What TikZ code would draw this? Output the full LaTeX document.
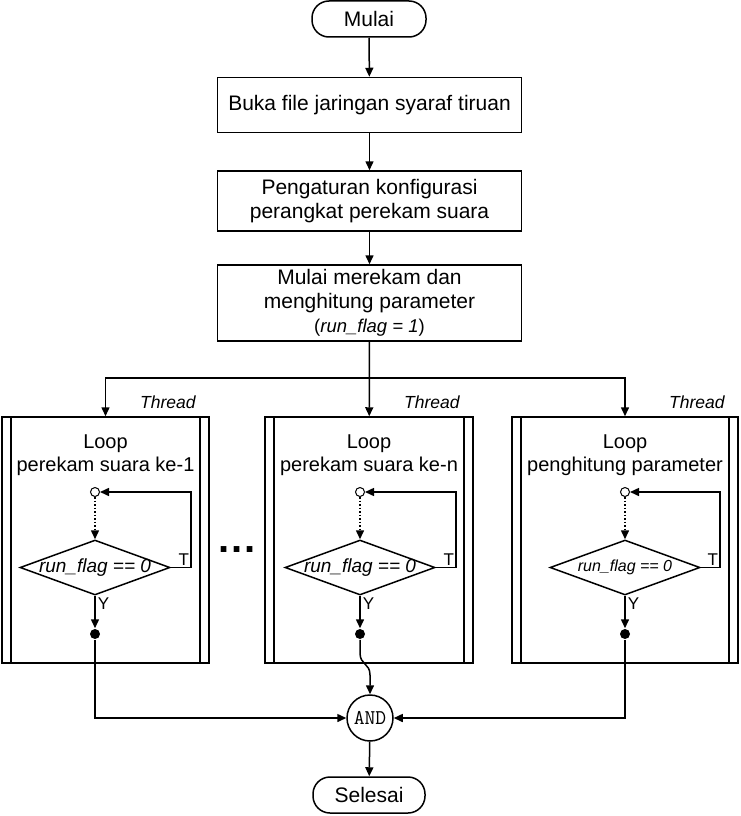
\documentclass[tikz,border=0pt]{standalone}
\usepackage{fontspec}
\setmainfont{Liberation Sans}
\usetikzlibrary{shapes.geometric,arrows.meta}
\tikzset{
  proses/.style={draw, minimum width=304pt, align=center, font=\fontsize{21}{24}\selectfont},
  terminal/.style={draw, rounded corners=17pt, minimum width=114pt, minimum height=36pt, font=\fontsize{21}{24}\selectfont},
  loopbox/.style={draw, minimum height=246pt, path picture={
    \draw ([xshift=9pt]path picture bounding box.north west) -- ([xshift=9pt]path picture bounding box.south west)
          ([xshift=-9pt]path picture bounding box.north east) -- ([xshift=-9pt]path picture bounding box.south east);}},
  judul/.style={align=center, font=\fontsize{20}{23}\selectfont},
  cek/.style={diamond, draw, aspect=2.7, minimum width=150pt, minimum height=55pt, inner sep=0pt},
  lubang/.style={circle, draw, fill=white, inner sep=0pt, minimum size=9pt, line width=1pt},
  titik/.style={circle, fill, inner sep=0pt, minimum size=10pt},
  kecil/.style={font=\fontsize{17}{20}\selectfont},
  benang/.style={anchor=base east, font=\fontsize{17.5}{20}\selectfont\itshape},
}
\begin{document}
\begin{tikzpicture}[x=1pt, y=-1pt, line width=1.5pt, >={Triangle[length=9pt,width=8pt]}]
\useasboundingbox (0,0) rectangle (740,816);
\node[terminal] (start) at (369,19) {Mulai};
\node[proses, minimum height=55pt] (buka) at (369.5,105) {Buka file jaringan syaraf tiruan};
\node[proses, minimum height=60pt] (atur) at (369.5,201) {Pengaturan konfigurasi\\perangkat perekam suara};
\node[proses, minimum height=76pt] (rekam) at (369.5,303) {Mulai merekam dan\\menghitung parameter\\{\fontsize{18.5}{20}\selectfont(\textit{run\_flag = 1})}};
\coordinate (cabang) at (369.5,378);

% tiga thread
\node[loopbox, minimum width=207pt] (loop1) at (105.5,540) {};
\node[loopbox, minimum width=208pt] (loopn) at (369,540) {};
\node[loopbox, minimum width=226pt] (loopp) at (625,540) {};
\node[benang] at ([xshift=-10pt,yshift=8pt]loop1.north east) {Thread};
\node[benang] at ([xshift=-10pt,yshift=8pt]loopn.north east) {Thread};
\node[benang] at ([xshift=-10pt,yshift=8pt]loopp.north east) {Thread};
\node[judul] at (105.5,455) {Loop\\perekam suara ke-1};
\node[judul] at (369,455) {Loop\\perekam suara ke-n};
\node[judul] at (625,455) {Loop\\penghitung parameter};
\node[font=\fontsize{40}{40}\selectfont\bfseries, inner sep=0pt] (titiktiga) at (237,550) {.\kern2pt.\kern2pt.};

\node[lubang] (o1) at (95,492) {};
\node[cek, label={[font=\fontsize{19}{22}\selectfont\itshape]center:run\_flag == 0}] (c1) at (95,567.5) {};
\node[titik] (d1) at (95,634) {};
\node[lubang] (on) at (360,492) {};
\node[cek, label={[font=\fontsize{19}{22}\selectfont\itshape]center:run\_flag == 0}] (cn) at (360,567.5) {};
\node[titik] (dn) at (360,634) {};
\node[lubang] (op) at (625,492) {};
\node[cek, label={[font=\fontsize{16}{19}\selectfont\itshape]center:run\_flag == 0}] (cp) at (625,567.5) {};
\node[titik] (dp) at (625,634) {};

\node[circle, draw, minimum size=46pt, inner sep=0pt, font=\fontsize{21}{24}\selectfont\ttfamily] (and) at (370,718) {AND};
\node[terminal, minimum width=112pt] (stop) at (369,795) {Selesai};

\draw[->] (start) -- (buka);
\draw[->] (buka) -- (atur);
\draw[->] (atur) -- (rekam);
\draw[->] (rekam) -- (loopn);
\draw[->] (cabang) -| (loop1);
\draw[->] (cabang) -| (loopp);

\draw[->, dotted] (o1) -- (c1);
\draw[->, dotted] (on) -- (cn);
\draw[->, dotted] (op) -- (cp);
\draw[->] (c1.east) -- ++(20,0) node[kecil, above left, inner sep=1pt] {T} |- (o1);
\draw[->] (cn.east) -- ++(20,0) node[kecil, above left, inner sep=1pt] {T} |- (on);
\draw[->] (cp.east) -- ++(19,0) node[kecil, above left, inner sep=1pt] {T} |- (op);
\draw[->] (c1) -- node[kecil, pos=0.25, right, inner sep=2pt] {Y} (d1);
\draw[->] (cn) -- node[kecil, pos=0.25, right, inner sep=2pt] {Y} (dn);
\draw[->] (cp) -- node[kecil, pos=0.25, right, inner sep=2pt] {Y} (dp);

\draw[->] (d1) |- (and);
\draw[->] (dp) |- (and);
\draw[->] (dn) -- ++(0,19) .. controls +(0,12) and +(0,-12) .. ++(10,22) -- (and);
\draw[->] (and) -- (stop);
\end{tikzpicture}
\end{document}
